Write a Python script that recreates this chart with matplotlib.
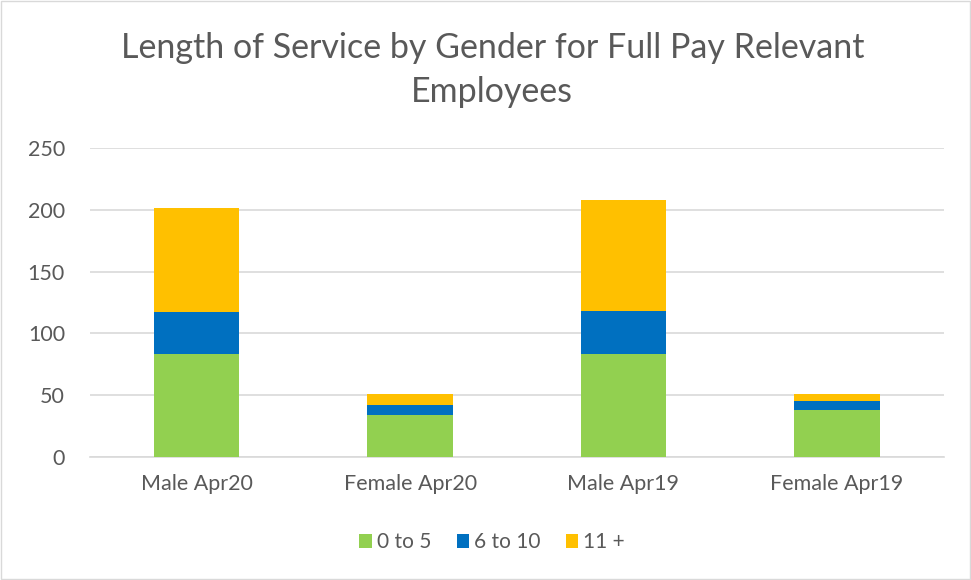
import matplotlib.pyplot as plt
import numpy as np
from matplotlib.patches import Rectangle

categories = ["Male Apr20", "Female Apr20", "Male Apr19", "Female Apr19"]
years_0_5 = [83, 34, 83, 38]
years_6_10 = [34, 8, 35, 7]
years_11_plus = [84, 9, 90, 6]
series_names = ["0 to 5", "6 to 10", "11 +"]
colors = ["#92d050", "#0070c0", "#ffc000"]

plt.rcParams['font.family'] = ['Lato', 'DejaVu Sans']

fig = plt.figure(figsize=(9.71, 5.8), dpi=100)
ax = fig.add_axes([0.0927, 0.212, 0.879, 0.533])

x = np.arange(len(categories))
bottom = np.zeros(len(categories))
for vals, name, c in zip([years_0_5, years_6_10, years_11_plus], series_names, colors):
    ax.bar(x, vals, width=0.4, bottom=bottom, color=c, label=name, zorder=3)
    bottom += np.array(vals)

ax.set_xlim(-0.5, len(categories) - 0.5)
ax.set_ylim(0, 250)
ax.set_yticks(range(0, 251, 50))
ax.set_xticks(x)
ax.set_xticklabels(categories)
ax.grid(axis='y', color='#d9d9d9', linewidth=1.2, zorder=0)
for s in ['top', 'right', 'left']:
    ax.spines[s].set_visible(False)
ax.spines['bottom'].set_color('#d9d9d9')
ax.spines['bottom'].set_linewidth(1.2)
ax.tick_params(axis='both', length=0, colors='#595959', labelsize=15.5)
ax.tick_params(axis='x', pad=12)
ax.tick_params(axis='y', pad=18)

fig.text(0.507, 0.879, "Length of Service by Gender for Full Pay Relevant\nEmployees",
         ha='center', va='center', fontsize=24.5, color='#595959', linespacing=1.45)

fig.legend(loc='center', bbox_to_anchor=(0.507, 0.065), ncol=3, frameon=False,
           fontsize=15, labelcolor='#595959', handlelength=0.6, handleheight=0.6,
           handletextpad=0.25, columnspacing=1.2)

fig.patches.append(Rectangle((0.001, 0.001), 0.998, 0.998, transform=fig.transFigure,
                             fill=False, edgecolor='#d9d9d9', linewidth=1))

fig.savefig("out.png", dpi=100)
